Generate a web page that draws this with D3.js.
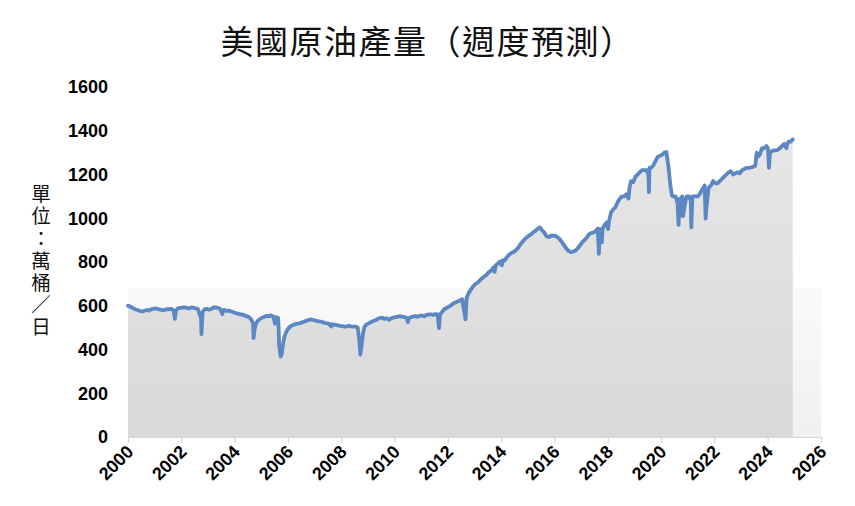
<!DOCTYPE html>
<html><head><meta charset="utf-8">
<script src="https://cdn.jsdelivr.net/npm/d3@7"></script>
<style>html,body{margin:0;padding:0;background:#fff;}svg{display:block;}</style>
</head><body>
<svg id="chart" width="855" height="506"></svg>
<script>
// ---- data (weekly production, 10k barrels/day) ----
const title = "美國原油產量（週度預測）";
const yAxisTitle = "單位：萬桶／日";
const yTicks = [0,200,400,600,800,1000,1200,1400,1600];
const xTickYears = [2000,2002,2004,2006,2008,2010,2012,2014,2016,2018,2020,2022,2024,2026];
const dataEndYear = "2024-12-10";

const dates = [
"2000-01-07","2000-02-15","2000-03-15","2000-04-15","2000-05-15","2000-06-15","2000-07-15","2000-08-15","2000-09-15","2000-10-15","2000-11-15","2000-12-15",
"2001-01-15","2001-02-15","2001-03-15","2001-04-15","2001-05-15","2001-06-15","2001-07-15","2001-08-15","2001-09-15","2001-10-05","2001-10-20","2001-11-15","2001-12-15",
"2002-01-15","2002-02-15","2002-03-15","2002-04-15","2002-05-15","2002-06-15","2002-07-15","2002-08-15","2002-09-27","2002-10-04","2002-10-18","2002-11-15","2002-12-15",
"2003-01-15","2003-02-15","2003-03-15","2003-04-15","2003-05-15","2003-06-15","2003-07-18","2003-07-25","2003-08-15","2003-09-15","2003-10-15","2003-11-15","2003-12-15",
"2004-01-15","2004-02-15","2004-03-15","2004-04-15","2004-05-15","2004-06-15","2004-07-15","2004-08-15","2004-09-10","2004-09-17","2004-09-30","2004-10-15","2004-11-15","2004-12-15",
"2005-01-15","2005-02-15","2005-03-15","2005-04-15","2005-05-15","2005-06-15","2005-07-08","2005-07-22","2005-08-19","2005-08-26","2005-09-02","2005-09-23","2005-10-07","2005-10-28","2005-11-15","2005-12-15",
"2006-01-15","2006-02-15","2006-03-15","2006-04-15","2006-05-15","2006-06-15","2006-07-15","2006-08-15","2006-09-15","2006-10-15","2006-11-15","2006-12-15",
"2007-01-15","2007-02-15","2007-03-15","2007-04-15","2007-05-15","2007-06-15","2007-07-15","2007-08-17","2007-08-24","2007-09-15","2007-10-15","2007-11-15","2007-12-15",
"2008-01-15","2008-02-15","2008-03-15","2008-04-15","2008-05-15","2008-06-15","2008-07-15","2008-08-15","2008-09-05","2008-09-19","2008-10-03","2008-10-24","2008-11-15","2008-12-15",
"2009-01-15","2009-02-15","2009-03-15","2009-04-15","2009-05-15","2009-06-15","2009-07-15","2009-08-15","2009-09-15","2009-10-15","2009-11-15","2009-12-15",
"2010-01-15","2010-02-15","2010-03-15","2010-04-15","2010-05-15","2010-06-15","2010-07-02","2010-07-16","2010-08-15","2010-09-15","2010-10-15","2010-11-15","2010-12-15",
"2011-01-15","2011-02-15","2011-03-15","2011-04-15","2011-05-15","2011-06-15","2011-07-15","2011-08-15","2011-09-02","2011-09-16","2011-10-15","2011-11-15","2011-12-15",
"2012-01-15","2012-02-15","2012-03-15","2012-04-15","2012-05-15","2012-06-15","2012-07-15","2012-08-31","2012-09-14","2012-10-15","2012-11-15","2012-12-15",
"2013-01-15","2013-02-15","2013-03-15","2013-04-15","2013-05-15","2013-06-15","2013-07-15","2013-08-15","2013-09-15","2013-10-04","2013-10-18","2013-11-15","2013-12-15",
"2014-01-10","2014-01-24","2014-02-15","2014-03-15","2014-04-15","2014-05-15","2014-06-15","2014-07-15","2014-08-15","2014-09-15","2014-10-15","2014-11-15","2014-12-15",
"2015-01-15","2015-02-15","2015-03-15","2015-04-15","2015-05-15","2015-06-15","2015-07-15","2015-08-15","2015-09-15","2015-10-15","2015-11-15","2015-12-15",
"2016-01-15","2016-02-15","2016-03-15","2016-04-15","2016-05-15","2016-06-15","2016-07-15","2016-08-15","2016-09-15","2016-10-15","2016-11-15","2016-12-15",
"2017-01-15","2017-02-15","2017-03-15","2017-04-15","2017-05-15","2017-06-15","2017-07-15","2017-08-18","2017-09-01","2017-09-15","2017-10-13","2017-10-20","2017-11-15","2017-12-15",
"2018-01-05","2018-01-19","2018-02-15","2018-03-15","2018-04-15","2018-05-15","2018-06-15","2018-07-15","2018-08-15","2018-09-15","2018-10-12","2018-10-26","2018-11-15","2018-12-15",
"2019-01-15","2019-02-15","2019-03-15","2019-04-15","2019-05-15","2019-06-15","2019-07-12","2019-07-19","2019-07-26","2019-08-15","2019-09-15","2019-10-15","2019-11-15","2019-12-15",
"2020-01-15","2020-02-15","2020-03-13","2020-04-10","2020-05-08","2020-05-29","2020-06-15","2020-07-17","2020-08-14","2020-08-28","2020-09-11","2020-09-18","2020-10-02","2020-10-09","2020-10-16","2020-10-30","2020-11-15","2020-12-15",
"2021-01-15","2021-02-12","2021-02-19","2021-03-05","2021-04-15","2021-05-15","2021-06-15","2021-07-15","2021-08-20","2021-09-03","2021-09-17","2021-10-15","2021-11-15","2021-12-15",
"2022-01-15","2022-02-15","2022-03-15","2022-04-15","2022-05-15","2022-06-15","2022-07-15","2022-08-15","2022-09-15","2022-10-15","2022-11-15","2022-12-15",
"2023-01-15","2023-02-15","2023-03-15","2023-04-15","2023-05-15","2023-06-15","2023-07-15","2023-08-04","2023-08-15","2023-09-15","2023-10-15","2023-11-15","2023-12-15",
"2024-01-05","2024-01-19","2024-02-02","2024-03-15","2024-04-15","2024-05-15","2024-06-15","2024-07-15","2024-08-15","2024-09-13","2024-09-27","2024-10-15","2024-11-15","2024-12-06"
];
const production = [
600,594,588,583,580,576,574,577,581,578,584,586,
588,585,583,579,581,584,585,586,580,540,578,588,590,
591,593,590,588,592,591,588,586,545,470,570,584,586,
582,585,592,593,590,586,562,580,581,576,578,574,570,
566,564,561,560,556,552,548,538,520,452,490,515,532,540,
546,550,554,552,556,550,518,548,545,500,420,368,380,430,460,485,
500,508,512,516,518,520,524,528,532,536,538,535,
532,530,528,526,522,520,518,505,516,512,514,510,508,
507,505,506,508,506,505,505,500,440,377,410,470,505,515,
520,526,530,534,540,544,546,540,543,536,542,546,
548,550,553,550,548,545,525,543,548,551,553,550,555,
555,552,558,560,561,558,562,561,498,560,572,585,590,
596,602,610,615,620,624,630,538,635,660,675,690,
700,706,716,726,734,742,754,760,775,755,785,792,802,
785,808,806,820,832,840,845,852,862,878,890,902,912,
920,926,936,942,952,958,945,935,918,914,920,921,
920,912,904,890,875,860,850,845,848,852,862,876,
890,900,910,925,932,934,940,953,837,950,890,950,968,980,
950,988,1027,1040,1050,1072,1090,1100,1100,1110,1090,1140,1170,1165,
1190,1200,1210,1220,1220,1220,1200,1119,1230,1230,1240,1260,1280,1285,
1290,1300,1303,1240,1150,1104,1100,1100,1070,970,1090,1010,1060,1044,1100,1010,1050,1100,
1100,1080,958,1100,1100,1100,1110,1130,1150,998,1060,1140,1150,1170,
1160,1160,1170,1180,1190,1200,1210,1215,1200,1205,1210,1205,
1220,1225,1230,1230,1232,1235,1240,1300,1280,1290,1320,1320,1330,
1320,1230,1300,1310,1310,1312,1320,1330,1340,1320,1340,1350,1350,1360
];

// ---- drawing ----
const parse = d3.timeParse("%Y-%m-%d");
const series = dates.map((d,i)=>({date:parse(d), value:production[i]}));
const svg = d3.select("#chart");
const W = 855, H = 506;
const m = {left:128, right:34, top:87, bottom:69};
const x = d3.scaleTime().domain([new Date(2000,0,1), new Date(2026,0,1)]).range([m.left, W-m.right]);
const y = d3.scaleLinear().domain([0,1600]).range([H-m.bottom, m.top]);

const defs = svg.append("defs");
const bg = defs.append("linearGradient").attr("id","bgGrad").attr("x1",0).attr("y1",0).attr("x2",0).attr("y2",1);
bg.append("stop").attr("offset","0%").attr("stop-color","#fafafa");
bg.append("stop").attr("offset","100%").attr("stop-color","#f0f0f0");
const ag = defs.append("linearGradient").attr("id","areaGrad").attr("x1",0).attr("y1",0).attr("x2",0).attr("y2",1);
ag.append("stop").attr("offset","0%").attr("stop-color","#e6e6e6");
ag.append("stop").attr("offset","100%").attr("stop-color","#d9d9d9");

// light plot background band
svg.append("rect")
  .attr("x", x(new Date(2000,0,1))).attr("y", y(680))
  .attr("width", x(new Date(2026,0,1)) - x(new Date(2000,0,1)))
  .attr("height", y(0) - y(680))
  .attr("fill","url(#bgGrad)");

// area
const area = d3.area().x(d=>x(d.date)).y0(y(0)).y1(d=>y(d.value));
const areaData = [{date:new Date(2000,0,1), value:series[0].value}, ...series, {date:parse(dataEndYear), value:series[series.length-1].value}];
svg.append("path").datum(areaData).attr("d", area).attr("fill","url(#areaGrad)");

// line
const line = d3.line().x(d=>x(d.date)).y(d=>y(d.value));
svg.append("path").datum(areaData).attr("d", line)
  .attr("fill","none").attr("stroke","#5b88c2").attr("stroke-width",3.8)
  .attr("stroke-linejoin","round").attr("stroke-linecap","round");

// x axis
const xAxis = d3.axisBottom(x)
  .tickValues(xTickYears.map(yr=>new Date(yr,0,1)))
  .tickFormat(d3.timeFormat("%Y")).tickSize(6).tickSizeOuter(0).tickPadding(4);
const gx = svg.append("g").attr("transform",`translate(0,${y(0)})`).call(xAxis);
gx.select(".domain").attr("stroke","#d9d9d9").attr("stroke-width",1.2);
gx.selectAll(".tick line").attr("stroke","#d4d4d4").attr("stroke-width",1.2);
gx.selectAll(".tick text")
  .attr("font-family","'Liberation Sans', Arial, sans-serif")
  .attr("font-weight","bold").attr("font-size",18).attr("fill","#000")
  .attr("text-anchor","end").attr("dy",null).attr("y",null)
  .attr("transform","translate(6,16) rotate(-45)");

// y axis labels
const yAxis = d3.axisLeft(y).tickValues(yTicks).tickFormat(d3.format("d")).tickSize(0).tickPadding(20);
const gy = svg.append("g").attr("transform",`translate(${m.left},0)`).call(yAxis);
gy.select(".domain").remove();
gy.selectAll(".tick text")
  .attr("font-family","'Liberation Sans', Arial, sans-serif")
  .attr("font-weight","bold").attr("font-size",18).attr("fill","#000");

// title
svg.append("text").attr("x", W/2).attr("y", 54).attr("text-anchor","middle")
  .attr("font-family","'Noto Sans CJK TC', sans-serif").attr("font-size",33).attr("letter-spacing",1.5).attr("fill","#111")
  .text(title);

// vertical y-axis title (single vertical text)
svg.append("text")
  .attr("x", 41).attr("y", 184)
  .style("writing-mode","vertical-rl").style("text-orientation","upright")
  .attr("font-family","'Noto Sans CJK TC', sans-serif").attr("font-size",19.5)
  .attr("letter-spacing",2.7).attr("fill","#111")
  .text(yAxisTitle);
</script>
</body></html>
